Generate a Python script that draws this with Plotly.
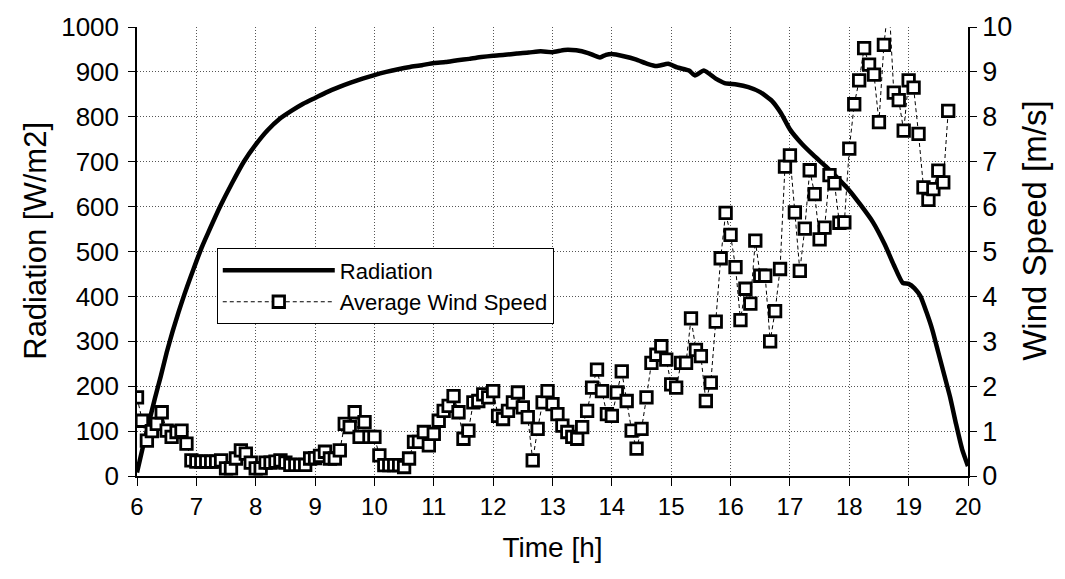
import plotly.graph_objects as go

# ---------------- data ----------------
rad_time = [6.0, 6.1, 6.2, 6.3, 6.4, 6.5, 6.6, 6.7, 6.8, 6.9, 7.0, 7.1, 7.2, 7.4, 7.6,
            7.8, 8.0, 8.2, 8.4, 8.6, 8.8, 9.0, 9.2, 9.4, 9.6, 9.8, 10.0, 10.2, 10.4,
            10.6, 10.8, 11.0, 11.2, 11.4, 11.6, 11.8, 12.0, 12.2, 12.4, 12.6, 12.8,
            13.0, 13.2, 13.4, 13.6, 13.8, 13.9, 14.0, 14.2, 14.4, 14.6, 14.75, 14.95,
            15.1, 15.3, 15.4, 15.55, 15.75, 15.9, 16.1, 16.3, 16.5, 16.7, 16.85, 17.0,
            17.2, 17.4, 17.6, 17.8, 18.0, 18.2, 18.4, 18.6, 18.75, 18.9, 19.0, 19.1,
            19.2, 19.3, 19.4, 19.5, 19.6, 19.7, 19.8, 19.9, 20.0]
radiation = [8, 65, 118, 172, 222, 275, 322, 365, 405, 442, 478, 512, 542, 600, 652,
             700, 738, 770, 795, 813, 829, 842, 855, 866, 876, 885, 893, 900, 906,
             911, 915, 920, 922, 926, 929, 933, 936, 938, 941, 943, 946,
             944, 949, 948, 942, 932, 938, 940, 935, 928, 918, 913, 918,
             910, 903, 892, 903, 885, 875, 872, 866, 855, 835, 808, 772,
             740, 714, 690, 664, 636, 602, 565, 515, 470, 430, 428, 418,
             400, 365, 325, 275, 225, 175, 115, 60, 22]

# average wind speed, 5-minute values, one list per hour
wind_h06 = [1.75, 1.23, 0.79, 1.0, 1.16, 1.42, 1.01, 0.87, 0.98, 1.01, 0.72, 0.35]
wind_h07 = [0.32, 0.32, 0.32, 0.32, 0.32, 0.35, 0.17, 0.17, 0.39, 0.57, 0.5, 0.3]
wind_h08 = [0.17, 0.17, 0.3, 0.3, 0.32, 0.35, 0.3, 0.25, 0.25, 0.25, 0.25, 0.39]
wind_h09 = [0.4, 0.45, 0.54, 0.39, 0.39, 0.57, 1.16, 1.09, 1.42, 0.87, 1.2, 0.87]
wind_h10 = [0.87, 0.46, 0.24, 0.24, 0.24, 0.24, 0.2, 0.39, 0.76, 0.76, 0.98, 0.68]
wind_h11 = [0.94, 1.23, 1.45, 1.56, 1.78, 1.42, 0.83, 1.01, 1.64, 1.67, 1.82, 1.75]
wind_h12 = [1.89, 1.34, 1.27, 1.45, 1.64, 1.86, 1.53, 1.31, 0.35, 1.05, 1.64, 1.89]
wind_h13 = [1.6, 1.38, 1.12, 0.98, 0.87, 0.83, 1.09, 1.45, 1.97, 2.37, 1.89, 1.38]
wind_h14 = [1.34, 1.86, 2.33, 1.67, 1.01, 0.61, 1.05, 1.75, 2.52, 2.7, 2.89, 2.59]
wind_h15 = [2.04, 1.97, 2.52, 2.52, 3.51, 2.81, 2.67, 1.67, 2.08, 3.44, 4.85, 5.86]
wind_h16 = [5.37, 4.65, 3.47, 4.17, 3.84, 5.24, 4.46, 4.46, 3.0, 3.67, 4.61, 6.89]
wind_h17 = [7.14, 5.87, 4.57, 5.51, 6.81, 6.28, 5.27, 5.53, 6.7, 6.52, 5.64, 5.65]
wind_h18 = [7.29, 8.28, 8.81, 9.53, 9.16, 8.94, 7.88, 9.6, 10.6, 8.54, 8.37, 7.69]
wind_h19 = [8.81, 8.65, 7.62, 6.43, 6.15, 6.39, 6.8, 6.54, 8.13]

hour_starts = [6, 7, 8, 9, 10, 11, 12, 13, 14, 15, 16, 17, 18, 19]
wind_hours = [wind_h06, wind_h07, wind_h08, wind_h09, wind_h10, wind_h11, wind_h12,
              wind_h13, wind_h14, wind_h15, wind_h16, wind_h17, wind_h18, wind_h19]

wind_time, wind_speed = [], []
for h, vals in zip(hour_starts, wind_hours):
    for i, v in enumerate(vals):
        wind_time.append(h + 5 * i / 60.0)
        wind_speed.append(v)

x_ticks = list(range(6, 21))
y_ticks = list(range(0, 1001, 100))
y2_ticks = list(range(0, 11))

# ---------------- figure ----------------
FONT = "Liberation Sans, Arial, sans-serif"
GRID = dict(showgrid=True, gridcolor="#555", griddash="1px,2px", gridwidth=1)

fig = go.Figure()
fig.add_trace(go.Scatter(
    x=rad_time, y=radiation, name="Radiation", mode="lines",
    line=dict(color="black", width=4.5, shape="spline", smoothing=0.5), yaxis="y"))
fig.add_trace(go.Scatter(
    x=wind_time, y=wind_speed, name="Average Wind Speed", mode="lines+markers",
    line=dict(color="black", width=1, dash="4px,3px"),
    marker=dict(symbol="square", size=11.5, color="white",
                line=dict(color="black", width=2.8)),
    yaxis="y2"))

fig.update_layout(
    width=1065, height=579,
    margin=dict(l=137, r=97, t=22, b=103),
    paper_bgcolor="white", plot_bgcolor="white",
    showlegend=True,
    legend=dict(x=0.096, y=0.507, xanchor="left", yanchor="top",
                bgcolor="white", bordercolor="black", borderwidth=1,
                font=dict(family=FONT, size=22, color="black"),
                itemwidth=112, tracegroupgap=4),
    xaxis=dict(range=[6, 20], tickvals=x_ticks, ticktext=[str(v) for v in x_ticks],
               showline=True, linecolor="black", linewidth=1.5,
               ticks="outside", ticklen=8, tickcolor="black",
               tickfont=dict(family=FONT, size=24, color="black"),
               title=dict(text="Time [h]", font=dict(family=FONT, size=28, color="black"),
                          standoff=19),
               zeroline=False, **GRID),
    yaxis=dict(range=[0, 1000], tickvals=y_ticks,
               showline=True, linecolor="black", linewidth=1.5,
               ticks="outside", ticklen=7, tickcolor="black",
               ticklabelstandoff=4,
               tickfont=dict(family=FONT, size=26, color="black"),
               zeroline=False, **GRID),
    yaxis2=dict(range=[0, 10], tickvals=y2_ticks, overlaying="y", side="right",
                showgrid=False, showline=True, linecolor="black", linewidth=1.5,
                ticks="outside", ticklen=7, tickcolor="black",
                tickfont=dict(family=FONT, size=27, color="black"),
                zeroline=False),
    annotations=[
        dict(text="Radiation [W/m2]", xref="paper", yref="paper",
             x=-0.1215, y=0.524, xanchor="center", yanchor="middle",
             textangle=-90, showarrow=False,
             font=dict(family=FONT, size=31, color="black")),
        dict(text="Wind Speed [m/s]", xref="paper", yref="paper",
             x=1.0806, y=0.546, xanchor="center", yanchor="middle",
             textangle=-90, showarrow=False,
             font=dict(family=FONT, size=33, color="black")),
    ],
)

fig.write_html("out.html")
